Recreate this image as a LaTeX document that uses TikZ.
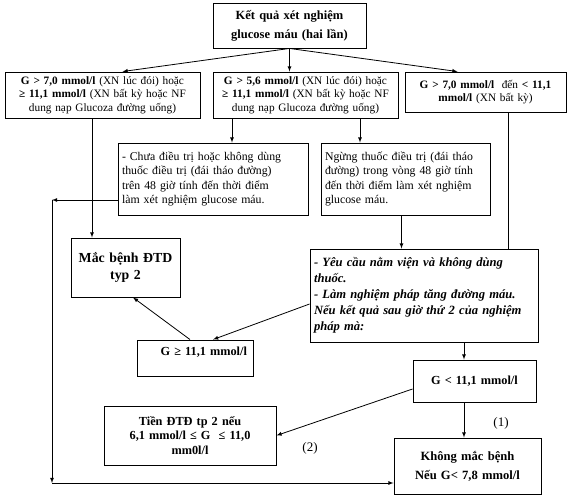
\documentclass[tikz,border=0pt]{standalone}
\usepackage{fontspec}
\setmainfont{Liberation Serif}
\usetikzlibrary{arrows,positioning}

\begin{document}
\begin{tikzpicture}[x=1pt, y=-1pt,
  box/.style={rectangle, draw, line width=0.9pt, inner xsep=4pt, inner ysep=2pt, align=center, font=\fontsize{11.3}{13.5}\selectfont},
  note/.style={box, align=left, font=\fontsize{11.8}{14.5}\selectfont},
  head/.style={box, font=\fontsize{12.5}{19}\selectfont\bfseries},
  res/.style={box, font=\fontsize{12.3}{14.5}\selectfont\bfseries},
  arrow/.style={-latex, line width=0.8pt}
]
\useasboundingbox (0,0) rectangle (576,497);

% first test
\node[head, text width=145pt, minimum height=45pt] (top) at (289.5,25.5) {Kết quả xét nghiệm\\glucose máu (hai lần)};

\node[box, text width=187pt, minimum height=46pt] (g1) at (102.5,95)
{\textbf{G > 7,0 mmol/l} (XN lúc đói) hoặc\\\textbf{≥ 11,1 mmol/l} (XN bất kỳ hoặc NF\\dung nạp Glucoza đường uống)};
\node[box, text width=177pt, minimum height=46pt] (g2) at (305.5,95)
{\textbf{G > 5,6 mmol/l} (XN lúc đói) hoặc\\\textbf{≥ 11,1 mmol/l} (XN bất kỳ hoặc NF\\dung nạp Glucoza đường uống)};
\node[box, text width=153pt, minimum height=40pt] (g3) at (485.5,92)
{\textbf{G > 7,0 mmol/l} \ đến \textbf{< 11,1}\\\textbf{mmol/l} (XN bất kỳ)};

% treatment
\node[note, text width=182pt, minimum height=72pt] (n1) at (213,179)
{- Chưa điều trị hoặc không dùng\\thuốc điều trị (đái tháo đường)\\trên 48 giờ tính đến thời điểm\\làm xét nghiệm glucose máu.};
\node[note, text width=161pt, minimum height=72pt] (n2) at (405.5,179)
{Ngừng thuốc điều trị (đái tháo\\đường) trong vòng 48 giờ tính\\đến thời điểm làm xét nghiệm\\glucose máu.};

% results
\node[head, font=\fontsize{13.8}{17}\selectfont\bfseries, text width=101pt, minimum height=59pt] (mac) at (125.5,267.5) {Mắc bệnh ĐTD\\typ 2};
\node[note, font=\fontsize{12.6}{16}\selectfont\bfseries\itshape, text width=220pt, minimum height=93pt] (yc) at (424,295.5)
{- Yêu cầu nằm viện và không dùng\\thuốc.\\- Làm nghiệm pháp tăng đường máu.\\Nếu kết quả sau giờ thứ 2 của nghiệm\\pháp mà:};
\node[res, align=right, inner xsep=6pt, text width=104pt, minimum height=36pt] (ge) at (195,358) {G ≥ 11,1 mmol/l\\\mbox{}};
\node[res, text width=115pt, minimum height=42pt] (lt) at (474.5,381) {G < 11,1 mmol/l};
\node[res, text width=164pt, minimum height=59pt] (tien) at (190,435.5) {Tiền ĐTĐ tp 2 nếu\\6,1 mmol/l ≤ G \ ≤ 11,0\\mm0l/l};
\node[res, font=\fontsize{12.6}{19}\selectfont\bfseries, text width=139pt, minimum height=56pt] (kh) at (467.5,466) {Không mắc bệnh\\Nếu G< 7,8 mmol/l};

\node[font=\fontsize{13}{15}\selectfont] (l1) at (501,423) {(1)};
\node[font=\fontsize{13}{15}\selectfont] (l2) at (310,448) {(2)};

% arrows
\draw[arrow] (top.south) -- ([xshift=20pt]g1.north);
\draw[arrow] (top.south) -- (top.south |- g2.north);
\draw[arrow] (top.south) -- ([xshift=-28pt]g3.north);

\draw[arrow] ([xshift=-10.5pt]g1.south) -- ([xshift=-10.5pt]g1.south |- mac.north);
\draw[arrow] ([xshift=-73.5pt]g2.south) -- ([xshift=-73.5pt]g2.south |- n1.north);
\draw[arrow] ([xshift=54.5pt]g2.south) -- ([xshift=54.5pt]g2.south |- n2.north);
\draw[line width=0.8pt] ([xshift=22.5pt]g3.south) -- ([xshift=22.5pt]g3.south |- yc.north);

\coordinate (c1) at (52,200);
\coordinate (c2) at (52,483);
\draw[arrow] ([yshift=-21pt]n1.west) -- (c1);
\draw[arrow] (c1) -- (c2);
\draw[arrow] (c2) -- (c2 -| kh.west);

\draw[arrow] ([xshift=-4pt]n2.south) -- ([xshift=-4pt]n2.south |- yc.north);
\draw[arrow] ([yshift=-8.5pt]yc.west) -- ([xshift=18pt]ge.north);
\draw[arrow] ([xshift=-5pt]ge.north) -- ([xshift=7.5pt]mac.south);
\draw[arrow] ([xshift=40pt]yc.south) -- ([xshift=40pt]yc.south |- lt.north);
\draw[arrow] ([xshift=-10.5pt]lt.south) -- ([xshift=-10.5pt]lt.south |- kh.north);
\draw[arrow] ([yshift=-8pt]lt.west) -- (tien.east);

\end{tikzpicture}
\end{document}
